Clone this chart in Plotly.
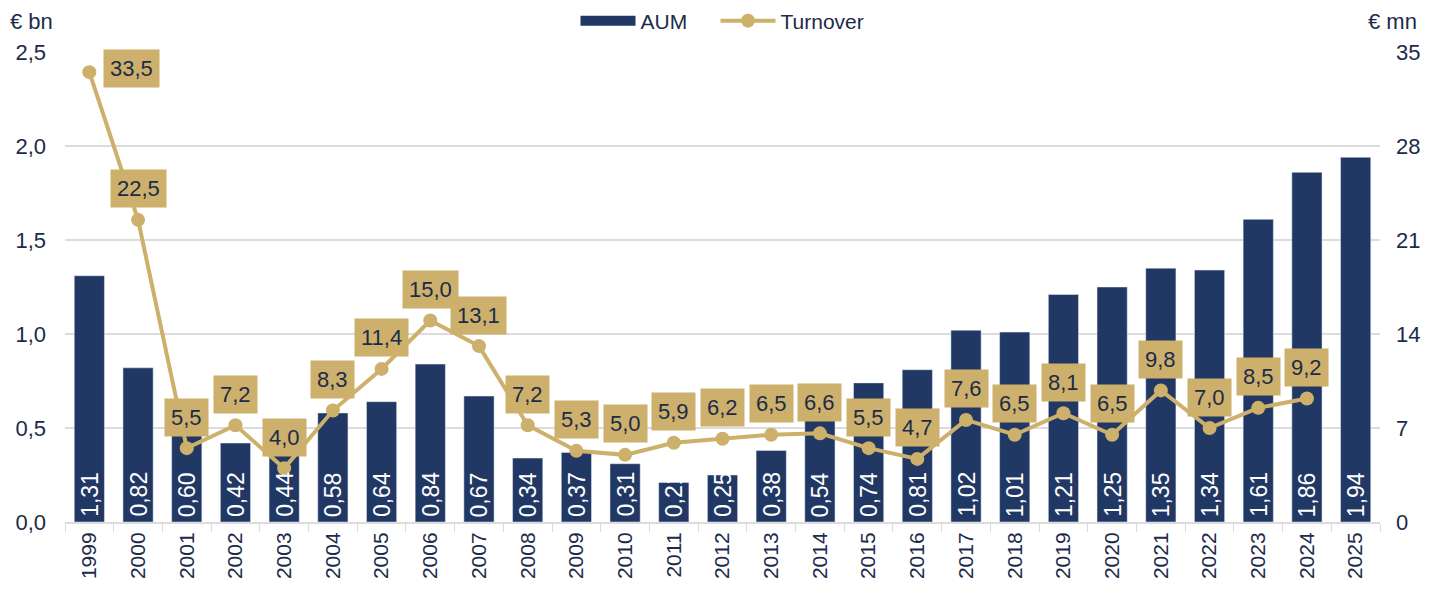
import plotly.graph_objects as go

years = [str(y) for y in range(1999, 2026)]
aum = [1.31, 0.82, 0.60, 0.42, 0.44, 0.58, 0.64, 0.84, 0.67, 0.34, 0.37, 0.31, 0.21,
       0.25, 0.38, 0.54, 0.74, 0.81, 1.02, 1.01, 1.21, 1.25, 1.35, 1.34, 1.61, 1.86, 1.94]
turnover = [33.5, 22.5, 5.5, 7.2, 4.0, 8.3, 11.4, 15.0, 13.1, 7.2, 5.3, 5.0, 5.9,
            6.2, 6.5, 6.6, 5.5, 4.7, 7.6, 6.5, 8.1, 6.5, 9.8, 7.0, 8.5, 9.2]

NAVY = "#213864"
GOLD = "#CDB06B"
TEXT = "#1C2B4A"
GRID = "#DCDCDC"
FONT = "Liberation Sans"

fig = go.Figure()
fig.add_trace(go.Bar(
    x=years, y=aum, name="AUM", marker_color=NAVY, yaxis="y", showlegend=False,
))
# legend entry for the bars, drawn as a wide block like the original
# (non-breaking spaces widen the gap to the next legend item)
fig.add_trace(go.Scatter(
    x=[None], y=[None], name="AUM" + "\u00a0" * 4, mode="lines",
    line=dict(color=NAVY, width=14), yaxis="y",
))
fig.add_trace(go.Scatter(
    x=years[:len(turnover)], y=turnover, name="Turnover", yaxis="y2",
    mode="lines+markers", line=dict(color=GOLD, width=4),
    marker=dict(color=GOLD, size=14),
))

annotations = []
# AUM value labels, rotated, at bar base (x given as category index)
for i, v in enumerate(aum):
    annotations.append(dict(
        x=i, y=0, xref="x", yref="y", text=f"{v:.2f}".replace(".", ","),
        textangle=-90, showarrow=False, yanchor="bottom", yshift=3,
        font=dict(color="white", size=23, family=FONT),
    ))
# Turnover labels in gold boxes
for i, v in enumerate(turnover):
    annotations.append(dict(
        x=i, y=v, xref="x", yref="y2", text=f"{v:.1f}".replace(".", ","),
        showarrow=False, yshift=4 if i == 0 else 31, xshift=42 if i == 0 else 0,
        bgcolor=GOLD, borderpad=6,
        font=dict(color=TEXT, size=22, family=FONT),
    ))
annotations.append(dict(x=-0.043, y=1.064, xref="paper", yref="paper", text="€ bn",
                        showarrow=False, xanchor="left", yanchor="middle",
                        font=dict(color=TEXT, size=22, family=FONT)))
annotations.append(dict(x=1.03, y=1.064, xref="paper", yref="paper", text="€ mn",
                        showarrow=False, xanchor="right", yanchor="middle",
                        font=dict(color=TEXT, size=22, family=FONT)))

fig.update_layout(
    width=1437, height=597,
    margin=dict(l=57, r=65, t=44, b=83, autoexpand=False),
    plot_bgcolor="white", paper_bgcolor="white",
    font=dict(family=FONT, color=TEXT, size=22),
    separators=",.",
    bargap=0.38,
    showlegend=True,
    legend=dict(orientation="h", x=0.5, xanchor="center", y=1.066, yanchor="middle",
                font=dict(size=21, color=TEXT), itemwidth=55, tracegroupgap=0),
    xaxis=dict(type="category", range=[-0.5, len(years) - 0.5], tickangle=-90,
               showline=True, linecolor=GRID,
               linewidth=2, ticks="outside", tickcolor=GRID, ticklen=8,
               tickson="boundaries", tickfont=dict(size=21, color=TEXT)),
    yaxis=dict(range=[0, 2.5], dtick=0.5, tickformat=".1f", showgrid=True,
               gridcolor=GRID, gridwidth=2, zeroline=False,
               ticklabelstandoff=18, tickfont=dict(size=22, color=TEXT)),
    yaxis2=dict(range=[0, 35], dtick=7, overlaying="y", side="right",
                showgrid=False, zeroline=False, ticklabelstandoff=15,
                tickfont=dict(size=22, color=TEXT)),
    annotations=annotations,
)

fig.write_html("out.html")
